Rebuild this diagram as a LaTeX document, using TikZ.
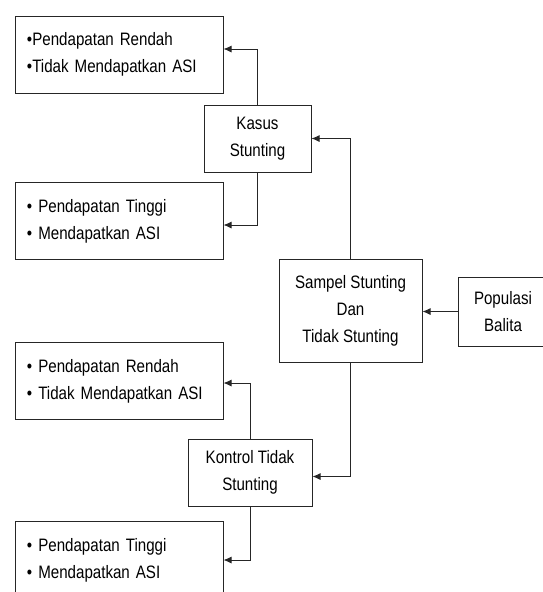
\documentclass[tikz,border=0pt]{standalone}
\usepackage{fontspec}
\setmainfont[FakeStretch=0.84]{Liberation Sans}
\usetikzlibrary{arrows.meta}

\begin{document}
\begin{tikzpicture}[x=1pt, y=-1pt]
        \tikzstyle{every node} = [font=\fontsize{18}{27}\selectfont, text=black]
        \tikzstyle{kotak}  = [draw=black!85, line width=1pt, align=center, inner sep=0pt]
        \tikzstyle{daftar} = [kotak, align=left, inner xsep=12pt, text width=184pt, minimum height=77pt]
        \tikzstyle{panah}  = [draw=black!85, line width=0.9pt, -{Latex[length=8pt, width=7pt]}]

        \useasboundingbox (0,0) rectangle (543,592);
        \clip (0,0) rectangle (543,592);

        % kelompok kasus
        \node[daftar] (ka) at (119,54.5) {•Pendapatan Rendah\\•Tidak Mendapatkan ASI};
        \node[kotak, minimum width=107pt, minimum height=67pt] (kasus) at (257.5,138.5) {Kasus\\Stunting};
        \node[daftar] (kb) at (119,221) {•\ Pendapatan Tinggi\\•\ Mendapatkan ASI};

        % sampel dan populasi
        \node[kotak, minimum width=143pt, minimum height=103pt] (sampel) at (350.5,310.5) {Sampel Stunting\\Dan\\Tidak Stunting};
        \node[kotak, minimum width=90pt, minimum height=69pt] (populasi) at (503,311.5) {Populasi\\Balita};

        % kelompok kontrol
        \node[daftar] (kc) at (119,381) {•\ Pendapatan Rendah\\•\ Tidak Mendapatkan ASI};
        \node[kotak, minimum width=124pt, minimum height=67pt] (kontrol) at (250,472.5) {Kontrol Tidak\\Stunting};
        \node[daftar] (kd) at (119,560) {•\ Pendapatan Tinggi\\•\ Mendapatkan ASI};

        \draw[panah] (populasi.west) -- (sampel.east |- populasi.west);
        \draw[panah] (sampel.north) |- (kasus.east);
        \draw[panah] (sampel.south) |- ([yshift=-4pt]kontrol.east);
        \draw[panah] (kasus.north) |- ([yshift=5.5pt]ka.east);
        \draw[panah] (kasus.south) |- ([yshift=-4pt]kb.east);
        \draw[panah] (kontrol.north) |- ([yshift=-2pt]kc.east);
        \draw[panah] (kontrol.south) |- (kd.east);
\end{tikzpicture}
\end{document}
